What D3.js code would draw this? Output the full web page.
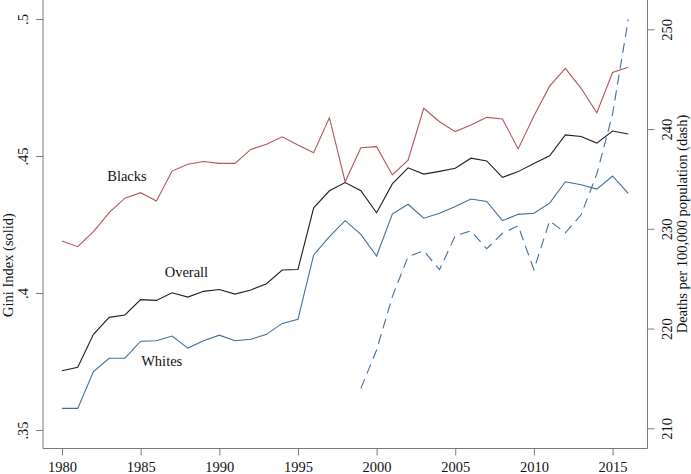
<!DOCTYPE html>
<html>
<head>
<meta charset="utf-8">
<script src="https://cdn.jsdelivr.net/npm/d3@7"></script>
<style>
  html, body { margin: 0; padding: 0; background: #fff; }
  svg { display: block; }
  text { font-family: "Liberation Serif", "Times New Roman", serif; }
</style>
</head>
<body>
<svg id="chart" width="691" height="474"></svg>
<script>
// ---- Data ----
const years = d3.range(1980, 2017);
const blacks = [0.419,0.4169,0.4224,0.4293,0.4346,0.4366,0.4336,0.4445,0.447,0.448,
                0.4473,0.4473,0.4524,0.4543,0.457,0.454,0.4512,0.464,0.4406,0.453,
                0.4534,0.4431,0.4485,0.4674,0.4625,0.4589,0.4613,0.4641,0.4635,0.4526,
                0.4646,0.4755,0.482,0.4747,0.4658,0.4805,0.4824];
const overall = [0.3716,0.3729,0.3849,0.3911,0.392,0.3976,0.3973,0.4001,0.3985,0.4006,
                 0.4013,0.3996,0.4011,0.4034,0.4084,0.4086,0.4311,0.4373,0.4403,0.4373,
                 0.4293,0.4398,0.4457,0.4434,0.4444,0.4455,0.4492,0.4482,0.4422,0.4443,
                 0.4473,0.4501,0.4577,0.4571,0.4547,0.4591,0.458];
const whites = [0.3579,0.3579,0.3713,0.3762,0.3762,0.3824,0.3826,0.3843,0.3799,0.3826,
                0.3846,0.3826,0.3831,0.3849,0.3889,0.3904,0.4139,0.4206,0.4264,0.4214,
                0.4135,0.4288,0.4324,0.4273,0.4291,0.4316,0.4343,0.4334,0.4264,0.4287,
                0.4291,0.4328,0.4406,0.4395,0.4379,0.4427,0.4364];
const deathYears = d3.range(1999, 2017);
const deaths = [214.0,217.85,223.2,227.2,227.8,225.9,229.3,229.8,228.0,229.55,
                230.3,225.9,230.8,229.6,231.4,235.5,241.5,251.0];
const xTicks = [1980,1985,1990,1995,2000,2005,2010,2015];
const leftTicks = [0.35,0.4,0.45,0.5];
const rightTicks = [210,220,230,240,250];
const labels = [
  {text: "Blacks", year: 1984.13, value: 0.4407},
  {text: "Overall", year: 1987.91, value: 0.406},
  {text: "Whites", year: 1986.34, value: 0.3732}
];

// ---- Layout ----
const svg = d3.select("#chart");
const axisColor = "#7a7a7a";
const textColor = "#111";
const fontSize = "14.5px";
const x = d3.scaleLinear().domain([1980, 2016]).range([62, 62 + 36 * 15.73]);
const yL = d3.scaleLinear().domain([0.35, 0.5]).range([430, 19]);
const yR = d3.scaleLinear().domain([210, 250]).range([428.3, 29.3]);
const plotLeft = 43, plotRight = 647.5, plotBottom = 448.5;

// axis lines
svg.append("line").attr("x1", plotLeft).attr("x2", plotLeft).attr("y1", 0).attr("y2", plotBottom)
  .attr("stroke", axisColor).attr("stroke-width", 1);
svg.append("line").attr("x1", plotRight).attr("x2", plotRight).attr("y1", 0).attr("y2", plotBottom)
  .attr("stroke", axisColor).attr("stroke-width", 1);
svg.append("line").attr("x1", plotLeft).attr("x2", plotRight).attr("y1", plotBottom).attr("y2", plotBottom)
  .attr("stroke", axisColor).attr("stroke-width", 1);

function styleAxis(g) {
  g.select(".domain").remove();
  g.selectAll(".tick line").attr("stroke", axisColor).attr("stroke-width", 1);
  g.selectAll(".tick text").attr("fill", textColor).style("font-size", fontSize)
    .style("font-family", '"Liberation Serif", "Times New Roman", serif');
}

// bottom axis
const gx = svg.append("g").attr("transform", `translate(0,${plotBottom})`)
  .call(d3.axisBottom(x).tickValues(xTicks).tickFormat(d3.format("d")).tickSize(7).tickPadding(0));
styleAxis(gx);
gx.selectAll(".tick text").attr("y", 23.5).attr("dy", 0);

// left axis
const fmtL = d => d3.format(".2~f")(d).replace(/^0/, "");
const gl = svg.append("g").attr("transform", `translate(${plotLeft},0)`)
  .call(d3.axisLeft(yL).tickValues(leftTicks).tickFormat(fmtL).tickSize(7));
styleAxis(gl);
gl.selectAll(".tick text").attr("x", 0).attr("y", 0).attr("dy", 0)
  .attr("text-anchor", "middle").attr("transform", "translate(-15,0) rotate(-90)");

// right axis
const gr = svg.append("g").attr("transform", `translate(${plotRight},0)`)
  .call(d3.axisRight(yR).tickValues(rightTicks).tickFormat(d3.format("d")).tickSize(7));
styleAxis(gr);
gr.selectAll(".tick text").attr("x", 0).attr("y", 0).attr("dy", 0)
  .attr("text-anchor", "middle").attr("transform", "translate(24,0) rotate(-90)");

// axis titles
svg.append("text").attr("transform", "translate(12.5,265) rotate(-90)")
  .attr("text-anchor", "middle").attr("fill", textColor).style("font-size", fontSize)
  .text("Gini Index (solid)");
svg.append("text").attr("transform", "translate(686.5,224) rotate(-90)")
  .attr("text-anchor", "middle").attr("fill", textColor).style("font-size", fontSize)
  .text("Deaths per 100,000 population (dash)");

// lines
const lineL = d3.line().x((d, i) => x(years[i])).y(d => yL(d));
const lineR = d3.line().x((d, i) => x(deathYears[i])).y(d => yR(d));
const series = [
  {data: blacks, color: "#b5545c"},
  {data: overall, color: "#1f1f1f"},
  {data: whites, color: "#3e6e9c"}
];
series.forEach(s => {
  svg.append("path").datum(s.data).attr("d", lineL)
    .attr("fill", "none").attr("stroke", s.color).attr("stroke-width", 1.1)
    .attr("stroke-linejoin", "miter");
});
svg.append("path").datum(deaths).attr("d", lineR)
  .attr("fill", "none").attr("stroke", "#3e6e9c").attr("stroke-width", 1.1)
  .attr("stroke-dasharray", "10,6");

// series labels
labels.forEach(l => {
  svg.append("text").attr("x", x(l.year)).attr("y", yL(l.value))
    .attr("text-anchor", "middle").attr("fill", textColor).style("font-size", fontSize)
    .text(l.text);
});
</script>
</body>
</html>
